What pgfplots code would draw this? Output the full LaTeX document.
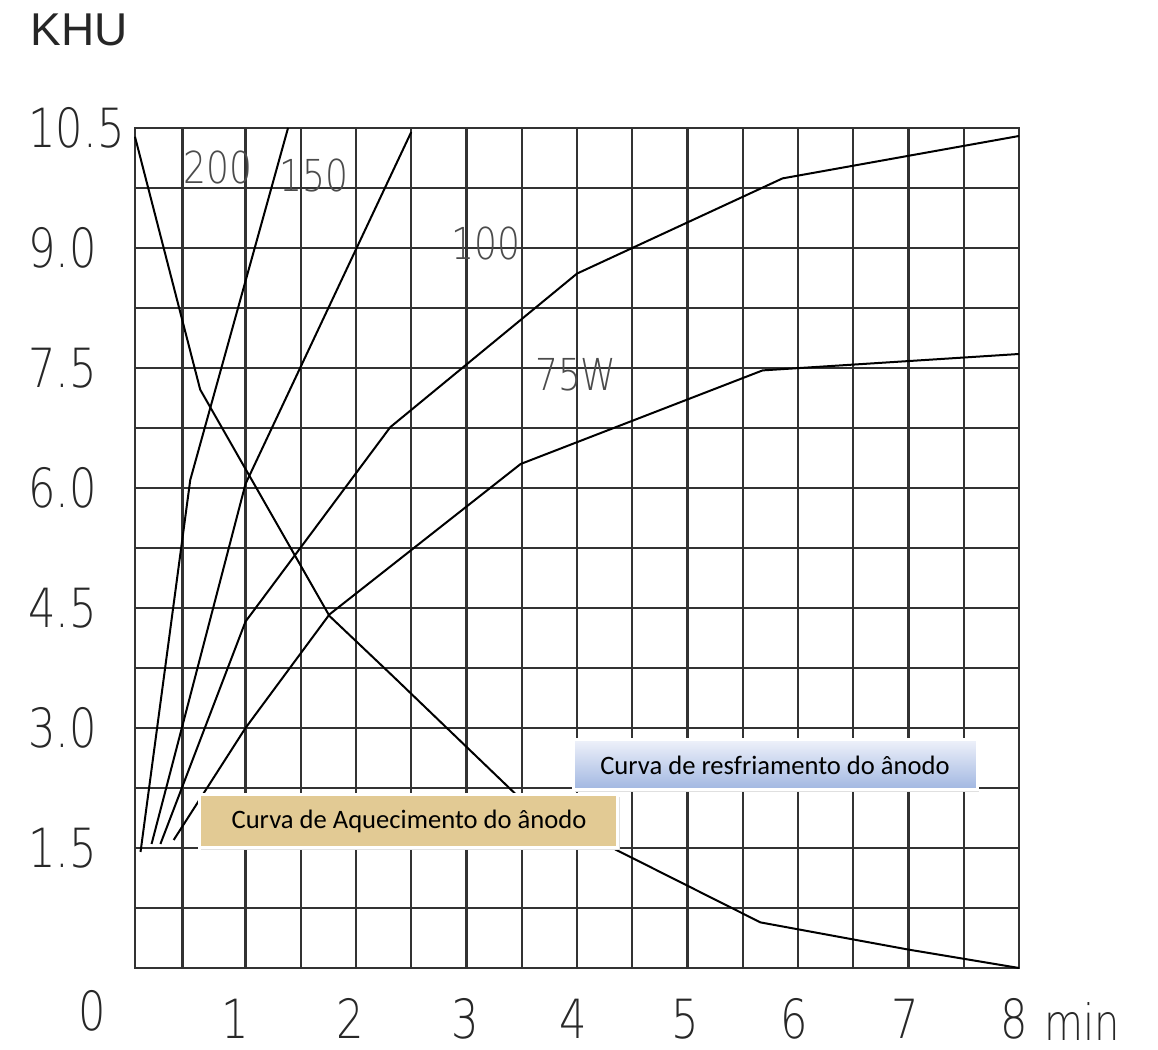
\documentclass[border=0pt]{standalone}
\usepackage{fontspec}
\usepackage{graphicx}
\usepackage{pgfplots}
\pgfplotsset{compat=1.18}
\setmainfont{Carlito}
\newfontfamily\cad{DejaVu Sans ExtraLight}
\newfontfamily\arialf{Liberation Sans}
\newcommand\cadtick[1]{\scalebox{0.8}[1]{\cad\fontsize{27}{30}\selectfont #1}}
\newcommand\cadmin[1]{\scalebox{0.8}[1]{\cad\fontsize{25}{28}\selectfont #1}}
\newcommand\cadlab[1]{\scalebox{0.82}[1]{\cad\fontsize{22}{24}\selectfont #1}}
\definecolor{gridc}{RGB}{50,50,50}
\definecolor{tickc}{RGB}{40,40,40}
\definecolor{labc}{RGB}{75,75,75}
\definecolor{tanc}{RGB}{226,202,148}
\definecolor{bluetop}{RGB}{238,241,250}
\definecolor{bluebot}{RGB}{160,182,225}
\begin{document}
\begin{tikzpicture}
\useasboundingbox (0,0) rectangle (579pt,525pt);
\begin{axis}[
  at={(67.5pt,41pt)}, anchor=south west,
  scale only axis, width=442pt, height=420pt,
  xmin=0, xmax=8, ymin=0, ymax=10.5,
  clip=false,
  axis line style={gridc, line width=1.1pt},
  xtick={0.91,1.95,2.99,3.97,4.98,5.97,6.97,7.96},
  xticklabels={\cadtick{1},\cadtick{2},\cadtick{3},\cadtick{4},\cadtick{5},\cadtick{6},\cadtick{7},\cadtick{8}},
  ytick={1.5,3,4.5,6,7.5,9,10.5},
  yticklabels={\cadtick{1.5},\cadtick{3.0},\cadtick{4.5},\cadtick{6.0},\cadtick{7.5},\cadtick{9.0},\cadtick{10.5}},
  minor xtick={0.43,1,1.5,2,2.5,3,3.5,4,4.5,5,5.5,6,6.5,7,7.5},
  minor ytick={0.75,1.5,2.25,3,3.75,4.5,5.25,6,6.75,7.5,8.25,9,9.75},
  grid=minor,
  minor grid style={gridc, line width=1.1pt},
  major tick length=0pt, minor tick length=0pt,
  xticklabel style={anchor=base, yshift=-35.5pt, inner sep=0pt, text=tickc},
  yticklabel style={anchor=west, xshift=-53.5pt, inner sep=0pt, text=tickc},
]
% cooling curve
\addplot[black, line width=1pt] coordinates {
 (0,10.39) (0.59,7.23) (1.76,4.40) (2.34,3.64) (3.44,2.18) (4.35,1.48) (5.66,0.57) (7.0,0.23) (8.0,0.0)};
% 200
\addplot[black, line width=1pt] coordinates {(0.05,1.45) (0.50,6.1) (1.385,10.5)};
% 150
\addplot[black, line width=1pt] coordinates {(0.15,1.55) (1.0,6.05) (2.5,10.45)};
% 100
\addplot[black, line width=1pt] coordinates {(0.23,1.55) (1.0,4.33) (2.31,6.76) (4.0,8.68) (5.86,9.87) (8.0,10.4)};
% 75W
\addplot[black, line width=1pt] coordinates {(0.35,1.6) (1.0,3.0) (1.76,4.42) (3.49,6.30) (5.68,7.47) (8.0,7.675)};

% curve labels
\node[labc, inner sep=0] at (axis cs:0.75,10.0) {\cadlab{200}};
\node[labc, inner sep=0] at (axis cs:1.62,9.91) {\cadlab{150}};
\node[labc, inner sep=0] at (axis cs:3.18,9.06) {\cadlab{100}};
\node[labc, inner sep=0] at (axis cs:3.99,7.41) {\cadlab{75W}};

% annotation boxes
\fill[black!12] (axis cs:3.98,2.20) rectangle (axis cs:7.64,2.83);
\fill[top color=bluetop, bottom color=bluebot, draw=white, line width=1.5pt]
  (axis cs:3.964,2.225) rectangle (axis cs:7.62,2.85);
\node[inner sep=0] at (axis cs:5.792,2.5375) {\fontsize{13.3}{16}\selectfont Curva de resfriamento do ânodo};
\fill[black!12] (axis cs:0.60,1.475) rectangle (axis cs:4.39,2.14);
\fill[tanc, draw=white, line width=1.5pt]
  (axis cs:0.588,1.5) rectangle (axis cs:4.371,2.1625);
\node[inner sep=0] at (axis cs:2.48,1.83) {\fontsize{13.3}{16}\selectfont Curva de Aquecimento do ânodo};

% axis extras
\node[tickc, anchor=base, inner sep=0] at (axis cs:-0.39,-0.78) {\cadtick{0}};
\node[tickc, anchor=base west, inner sep=0] at (axis cs:8.23,-0.9125) {\cadmin{min}};
\node[inner sep=0, text=black!85] at (axis cs:-0.507,11.725) {\arialf\fontsize{23}{26}\selectfont KHU};
\end{axis}
\end{tikzpicture}
\end{document}
